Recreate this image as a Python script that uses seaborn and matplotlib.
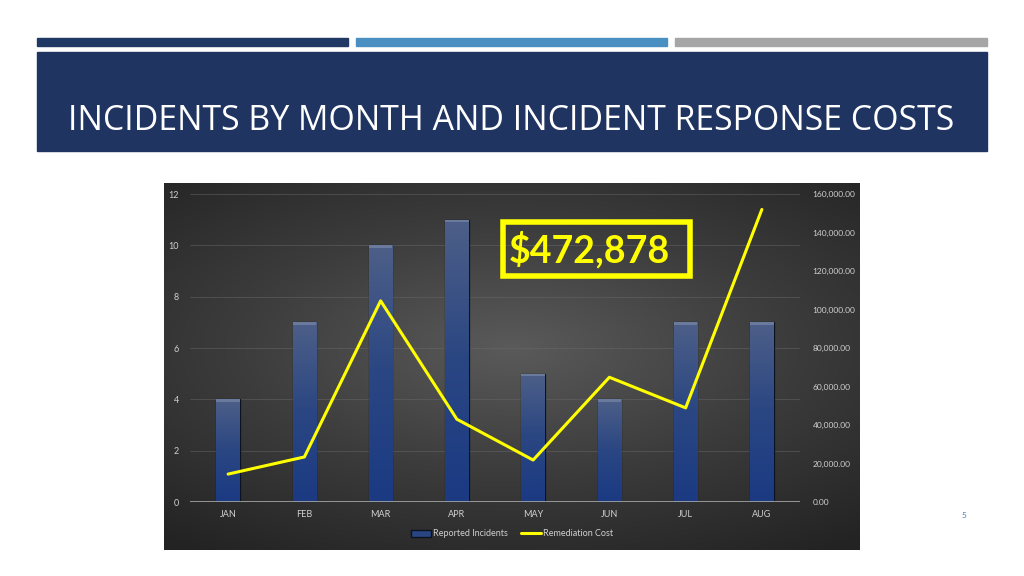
import numpy as np
import pandas as pd
import seaborn as sns
import matplotlib.pyplot as plt
from matplotlib.patches import Rectangle, Patch
from matplotlib.lines import Line2D
from matplotlib.ticker import FuncFormatter

months = ['JAN', 'FEB', 'MAR', 'APR', 'MAY', 'JUN', 'JUL', 'AUG']
incidents = [4, 7, 10, 11, 5, 4, 7, 7]
costs = [14500, 23400, 104500, 43000, 21800, 64800, 48900, 151978]
total_label = '$472,878'
title = 'INCIDENTS BY MONTH AND INCIDENT RESPONSE COSTS'

df = pd.DataFrame({'month': months, 'incidents': incidents, 'cost': costs})
df['pos'] = range(len(df))

sns.set_style('white')
plt.rcParams['font.family'] = ['Lato', 'DejaVu Sans']

W, H = 1024, 576
fig = plt.figure(figsize=(W / 100, H / 100), dpi=100)
fig.patch.set_facecolor('white')


def box(x0, y0, x1, y1):
    # pixel box (top-left origin) -> figure fraction rect
    return [x0 / W, 1 - y1 / H, (x1 - x0) / W, (y1 - y0) / H]


# header stripes and title band
for (x0, x1), col in zip([(37, 348), (356, 667), (675, 987)],
                         ['#1f3864', '#4a8fc1', '#a6a6a6']):
    r = box(x0, 38, x1, 46)
    fig.patches.append(Rectangle((r[0], r[1]), r[2], r[3], transform=fig.transFigure,
                                 color=col, zorder=0))
r = box(37, 52, 987, 151)
fig.patches.append(Rectangle((r[0], r[1]), r[2], r[3], transform=fig.transFigure,
                             color='#1f3461', zorder=0))
fig.text(68 / W, 1 - 121 / H, title, color='white', fontsize=24.4, va='center', ha='left',
         family=['Open Sans', 'DejaVu Sans'])
fig.text(964 / W, 1 - 516 / H, '5', color='#4a7fb0', fontsize=6, ha='center', va='center')

# dark chart panel with radial gradient
bg = fig.add_axes(box(164, 183, 860, 550))
yy, xx = np.mgrid[-1:1:200j, -1:1:300j]
rad = np.sqrt((xx * 0.85) ** 2 + ((yy + 0.1) * 1.0) ** 2)
bg.imshow(rad, cmap=sns.blend_palette(['#5a5a5a', '#3c3c3c', '#232323'], as_cmap=True),
          aspect='auto', extent=(0, 1, 0, 1), vmin=0, vmax=1.35)
bg.set_axis_off()

ax = fig.add_axes(box(190, 194, 800, 502))
ax.set_facecolor('none')
sns.barplot(data=df, x='month', y='incidents', color='#1f3a78', width=0.31,
            edgecolor='#0b1222', linewidth=0.9, saturation=1, ax=ax, zorder=3)

# vertical shading inside each bar
bar_cmap = sns.blend_palette(['#1b3a82', '#2a4682', '#4d5f88'], as_cmap=True)
grad = np.linspace(0, 1, 100).reshape(-1, 1)
for p in list(ax.patches):
    x0, w, h = p.get_x(), p.get_width(), p.get_height()
    im = ax.imshow(grad, cmap=bar_cmap, aspect='auto', origin='lower',
                   extent=(x0, x0 + w, 0, h), zorder=3.5)
    im.set_clip_path(p)
    ax.add_patch(Rectangle((x0, h - 0.1), w, 0.1, color='#6a7a9c', zorder=4, lw=0))
ax.set_xlim(-0.5, 7.5)
ax.set_ylim(0, 12)
ax.set_yticks(range(0, 13, 2))
ax.yaxis.grid(True, color='#6a6a6a', lw=0.6, alpha=0.55)
ax.set_axisbelow(True)
ax.axhline(0, color='#a8a8a8', lw=1.2, zorder=5)
for s in ax.spines.values():
    s.set_visible(False)
ax.set_xlabel('')
ax.set_ylabel('')
ax.tick_params(axis='both', colors='#d0d0d0', labelsize=6.5, length=0)
ax.tick_params(axis='y', pad=8)
ax.tick_params(axis='x', pad=6)

ax2 = ax.twinx()
sns.lineplot(data=df, x='pos', y='cost', color='#ffff00', lw=2.2, ax=ax2, zorder=6)
ax2.set_ylim(0, 160000)
ax2.set_yticks(range(0, 160001, 20000))
ax2.yaxis.set_major_formatter(FuncFormatter(lambda v, _: f'{v:,.2f}'))
ax2.set_ylabel('')
ax2.set_xlabel('')
for s in ax2.spines.values():
    s.set_visible(False)
ax2.tick_params(axis='y', colors='#d0d0d0', labelsize=6, length=0, pad=9)

# total cost callout
rb = box(503, 222, 690, 276)
fig.patches.append(Rectangle((rb[0], rb[1]), rb[2], rb[3], transform=fig.transFigure,
                             facecolor='none', edgecolor='#ffff00', lw=4, zorder=10))
fig.text(589 / W, 1 - 250 / H, total_label, color='#ffff00', fontsize=27,
         fontweight='bold', ha='center', va='center', zorder=11)

handles = [Patch(facecolor='#2a4682', edgecolor='#0b1222'),
           Line2D([], [], color='#ffff00', lw=2.2)]
leg = fig.legend(handles, ['Reported Incidents', 'Remediation Cost'], loc='center',
                 bbox_to_anchor=(512 / W, 1 - 534 / H), ncol=2, frameon=False,
                 fontsize=6.5, handlelength=2.2, handletextpad=0.2, columnspacing=1.5)
for t in leg.get_texts():
    t.set_color('#d0d0d0')

fig.savefig('out.png', dpi=100, facecolor='white')
